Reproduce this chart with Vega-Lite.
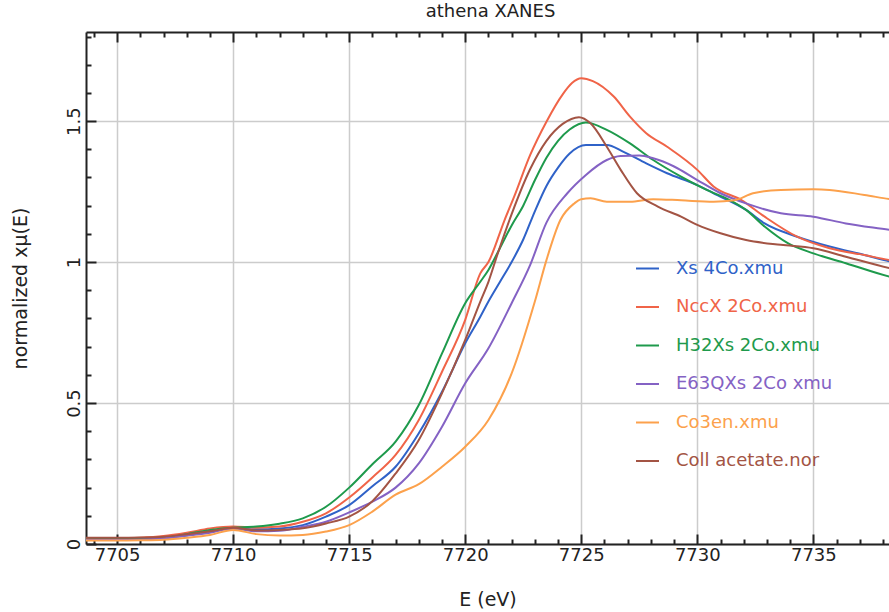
{
  "$schema": "https://vega.github.io/schema/vega-lite/v6.json",
  "width": 803,
  "height": 512,
  "autosize": {"type": "none"},
  "padding": {"left": 86, "top": 32, "right": 0, "bottom": 68},
  "background": "white",
  "config": {"view": {"stroke": null}, "font": "DejaVu Sans"},
  "title": {"text": "athena XANES", "font": "DejaVu Sans", "fontSize": 18, "fontWeight": "normal", "color": "#222", "anchor": "middle", "offset": 10, "dx": 3},
  "datasets": {
    "xas": [
      {"sample":"Xs 4Co.xmu","E":7703.5,"mu":0.018},{"sample":"Xs 4Co.xmu","E":7705,"mu":0.018},{"sample":"Xs 4Co.xmu","E":7706,"mu":0.02},{"sample":"Xs 4Co.xmu","E":7707,"mu":0.022},{"sample":"Xs 4Co.xmu","E":7708,"mu":0.03},{"sample":"Xs 4Co.xmu","E":7709,"mu":0.045},{"sample":"Xs 4Co.xmu","E":7710,"mu":0.055},{"sample":"Xs 4Co.xmu","E":7711,"mu":0.052},{"sample":"Xs 4Co.xmu","E":7712,"mu":0.055},{"sample":"Xs 4Co.xmu","E":7713,"mu":0.067},{"sample":"Xs 4Co.xmu","E":7714,"mu":0.097},{"sample":"Xs 4Co.xmu","E":7715,"mu":0.138},{"sample":"Xs 4Co.xmu","E":7716,"mu":0.205},{"sample":"Xs 4Co.xmu","E":7717,"mu":0.274},{"sample":"Xs 4Co.xmu","E":7718,"mu":0.393},{"sample":"Xs 4Co.xmu","E":7719,"mu":0.54},{"sample":"Xs 4Co.xmu","E":7720,"mu":0.712},{"sample":"Xs 4Co.xmu","E":7720.65,"mu":0.806},{"sample":"Xs 4Co.xmu","E":7721,"mu":0.86},{"sample":"Xs 4Co.xmu","E":7721.5,"mu":0.93},{"sample":"Xs 4Co.xmu","E":7722,"mu":1.0},{"sample":"Xs 4Co.xmu","E":7722.5,"mu":1.08},{"sample":"Xs 4Co.xmu","E":7723,"mu":1.18},{"sample":"Xs 4Co.xmu","E":7723.5,"mu":1.27},{"sample":"Xs 4Co.xmu","E":7724,"mu":1.335},{"sample":"Xs 4Co.xmu","E":7724.5,"mu":1.385},{"sample":"Xs 4Co.xmu","E":7725.2,"mu":1.415},{"sample":"Xs 4Co.xmu","E":7726.1,"mu":1.415},{"sample":"Xs 4Co.xmu","E":7726.8,"mu":1.392},{"sample":"Xs 4Co.xmu","E":7727.8,"mu":1.35},{"sample":"Xs 4Co.xmu","E":7728.7,"mu":1.315},{"sample":"Xs 4Co.xmu","E":7730,"mu":1.273},{"sample":"Xs 4Co.xmu","E":7730.7,"mu":1.244},{"sample":"Xs 4Co.xmu","E":7732.1,"mu":1.185},{"sample":"Xs 4Co.xmu","E":7732.9,"mu":1.137},{"sample":"Xs 4Co.xmu","E":7734.3,"mu":1.09},{"sample":"Xs 4Co.xmu","E":7735.7,"mu":1.055},{"sample":"Xs 4Co.xmu","E":7737.2,"mu":1.025},{"sample":"Xs 4Co.xmu","E":7738.3,"mu":1.002},{"sample":"Xs 4Co.xmu","E":7739,"mu":0.99},
      {"sample":"NccX 2Co.xmu","E":7703.5,"mu":0.02},{"sample":"NccX 2Co.xmu","E":7705,"mu":0.02},{"sample":"NccX 2Co.xmu","E":7706,"mu":0.022},{"sample":"NccX 2Co.xmu","E":7707,"mu":0.028},{"sample":"NccX 2Co.xmu","E":7708,"mu":0.04},{"sample":"NccX 2Co.xmu","E":7709,"mu":0.055},{"sample":"NccX 2Co.xmu","E":7710,"mu":0.062},{"sample":"NccX 2Co.xmu","E":7711,"mu":0.058},{"sample":"NccX 2Co.xmu","E":7712,"mu":0.062},{"sample":"NccX 2Co.xmu","E":7713,"mu":0.079},{"sample":"NccX 2Co.xmu","E":7714,"mu":0.109},{"sample":"NccX 2Co.xmu","E":7715,"mu":0.165},{"sample":"NccX 2Co.xmu","E":7716,"mu":0.236},{"sample":"NccX 2Co.xmu","E":7717,"mu":0.316},{"sample":"NccX 2Co.xmu","E":7718,"mu":0.44},{"sample":"NccX 2Co.xmu","E":7719,"mu":0.611},{"sample":"NccX 2Co.xmu","E":7720,"mu":0.795},{"sample":"NccX 2Co.xmu","E":7720.65,"mu":0.96},{"sample":"NccX 2Co.xmu","E":7721,"mu":1.0},{"sample":"NccX 2Co.xmu","E":7721.7,"mu":1.15},{"sample":"NccX 2Co.xmu","E":7722.1,"mu":1.23},{"sample":"NccX 2Co.xmu","E":7722.8,"mu":1.38},{"sample":"NccX 2Co.xmu","E":7723.5,"mu":1.498},{"sample":"NccX 2Co.xmu","E":7724.2,"mu":1.595},{"sample":"NccX 2Co.xmu","E":7724.6,"mu":1.635},{"sample":"NccX 2Co.xmu","E":7725,"mu":1.652},{"sample":"NccX 2Co.xmu","E":7725.5,"mu":1.642},{"sample":"NccX 2Co.xmu","E":7726.4,"mu":1.587},{"sample":"NccX 2Co.xmu","E":7727.1,"mu":1.516},{"sample":"NccX 2Co.xmu","E":7727.8,"mu":1.457},{"sample":"NccX 2Co.xmu","E":7728.7,"mu":1.409},{"sample":"NccX 2Co.xmu","E":7730,"mu":1.327},{"sample":"NccX 2Co.xmu","E":7730.7,"mu":1.268},{"sample":"NccX 2Co.xmu","E":7731.9,"mu":1.22},{"sample":"NccX 2Co.xmu","E":7732.9,"mu":1.161},{"sample":"NccX 2Co.xmu","E":7734.3,"mu":1.09},{"sample":"NccX 2Co.xmu","E":7735.7,"mu":1.049},{"sample":"NccX 2Co.xmu","E":7737.2,"mu":1.025},{"sample":"NccX 2Co.xmu","E":7738.3,"mu":1.007},{"sample":"NccX 2Co.xmu","E":7739,"mu":1.0},
      {"sample":"H32Xs 2Co.xmu","E":7703.5,"mu":0.015},{"sample":"H32Xs 2Co.xmu","E":7705,"mu":0.02},{"sample":"H32Xs 2Co.xmu","E":7706,"mu":0.02},{"sample":"H32Xs 2Co.xmu","E":7707,"mu":0.022},{"sample":"H32Xs 2Co.xmu","E":7708,"mu":0.035},{"sample":"H32Xs 2Co.xmu","E":7709,"mu":0.05},{"sample":"H32Xs 2Co.xmu","E":7710,"mu":0.058},{"sample":"H32Xs 2Co.xmu","E":7711,"mu":0.062},{"sample":"H32Xs 2Co.xmu","E":7712,"mu":0.072},{"sample":"H32Xs 2Co.xmu","E":7713,"mu":0.091},{"sample":"H32Xs 2Co.xmu","E":7714,"mu":0.132},{"sample":"H32Xs 2Co.xmu","E":7715,"mu":0.2},{"sample":"H32Xs 2Co.xmu","E":7716,"mu":0.283},{"sample":"H32Xs 2Co.xmu","E":7717,"mu":0.363},{"sample":"H32Xs 2Co.xmu","E":7718,"mu":0.493},{"sample":"H32Xs 2Co.xmu","E":7719,"mu":0.676},{"sample":"H32Xs 2Co.xmu","E":7720,"mu":0.854},{"sample":"H32Xs 2Co.xmu","E":7720.65,"mu":0.93},{"sample":"H32Xs 2Co.xmu","E":7721,"mu":0.972},{"sample":"H32Xs 2Co.xmu","E":7721.5,"mu":1.05},{"sample":"H32Xs 2Co.xmu","E":7722,"mu":1.13},{"sample":"H32Xs 2Co.xmu","E":7722.5,"mu":1.2},{"sample":"H32Xs 2Co.xmu","E":7723,"mu":1.29},{"sample":"H32Xs 2Co.xmu","E":7723.5,"mu":1.37},{"sample":"H32Xs 2Co.xmu","E":7724,"mu":1.43},{"sample":"H32Xs 2Co.xmu","E":7724.5,"mu":1.47},{"sample":"H32Xs 2Co.xmu","E":7725.2,"mu":1.495},{"sample":"H32Xs 2Co.xmu","E":7726.1,"mu":1.469},{"sample":"H32Xs 2Co.xmu","E":7727.1,"mu":1.421},{"sample":"H32Xs 2Co.xmu","E":7728.1,"mu":1.362},{"sample":"H32Xs 2Co.xmu","E":7729.3,"mu":1.303},{"sample":"H32Xs 2Co.xmu","E":7730.4,"mu":1.256},{"sample":"H32Xs 2Co.xmu","E":7731.4,"mu":1.22},{"sample":"H32Xs 2Co.xmu","E":7732.1,"mu":1.185},{"sample":"H32Xs 2Co.xmu","E":7732.9,"mu":1.126},{"sample":"H32Xs 2Co.xmu","E":7733.9,"mu":1.067},{"sample":"H32Xs 2Co.xmu","E":7735,"mu":1.031},{"sample":"H32Xs 2Co.xmu","E":7736.4,"mu":0.996},{"sample":"H32Xs 2Co.xmu","E":7738.3,"mu":0.948},{"sample":"H32Xs 2Co.xmu","E":7739,"mu":0.935},
      {"sample":"E63QXs 2Co xmu","E":7703.5,"mu":0.015},{"sample":"E63QXs 2Co xmu","E":7705,"mu":0.015},{"sample":"E63QXs 2Co xmu","E":7706,"mu":0.016},{"sample":"E63QXs 2Co xmu","E":7707,"mu":0.02},{"sample":"E63QXs 2Co xmu","E":7708,"mu":0.03},{"sample":"E63QXs 2Co xmu","E":7709,"mu":0.04},{"sample":"E63QXs 2Co xmu","E":7710,"mu":0.055},{"sample":"E63QXs 2Co xmu","E":7711,"mu":0.045},{"sample":"E63QXs 2Co xmu","E":7712,"mu":0.047},{"sample":"E63QXs 2Co xmu","E":7713,"mu":0.061},{"sample":"E63QXs 2Co xmu","E":7714,"mu":0.079},{"sample":"E63QXs 2Co xmu","E":7715,"mu":0.112},{"sample":"E63QXs 2Co xmu","E":7716,"mu":0.15},{"sample":"E63QXs 2Co xmu","E":7717,"mu":0.2},{"sample":"E63QXs 2Co xmu","E":7718,"mu":0.286},{"sample":"E63QXs 2Co xmu","E":7719,"mu":0.416},{"sample":"E63QXs 2Co xmu","E":7720,"mu":0.57},{"sample":"E63QXs 2Co xmu","E":7721,"mu":0.694},{"sample":"E63QXs 2Co xmu","E":7722,"mu":0.854},{"sample":"E63QXs 2Co xmu","E":7722.8,"mu":0.99},{"sample":"E63QXs 2Co xmu","E":7723.5,"mu":1.14},{"sample":"E63QXs 2Co xmu","E":7724.4,"mu":1.244},{"sample":"E63QXs 2Co xmu","E":7725.2,"mu":1.309},{"sample":"E63QXs 2Co xmu","E":7726.1,"mu":1.362},{"sample":"E63QXs 2Co xmu","E":7726.7,"mu":1.376},{"sample":"E63QXs 2Co xmu","E":7727.5,"mu":1.378},{"sample":"E63QXs 2Co xmu","E":7728.1,"mu":1.368},{"sample":"E63QXs 2Co xmu","E":7729,"mu":1.339},{"sample":"E63QXs 2Co xmu","E":7730,"mu":1.291},{"sample":"E63QXs 2Co xmu","E":7731,"mu":1.244},{"sample":"E63QXs 2Co xmu","E":7732.1,"mu":1.208},{"sample":"E63QXs 2Co xmu","E":7733.6,"mu":1.173},{"sample":"E63QXs 2Co xmu","E":7735,"mu":1.161},{"sample":"E63QXs 2Co xmu","E":7736.4,"mu":1.137},{"sample":"E63QXs 2Co xmu","E":7738.3,"mu":1.114},{"sample":"E63QXs 2Co xmu","E":7739,"mu":1.105},
      {"sample":"Co3en.xmu","E":7703.5,"mu":0.012},{"sample":"Co3en.xmu","E":7705,"mu":0.012},{"sample":"Co3en.xmu","E":7706,"mu":0.013},{"sample":"Co3en.xmu","E":7707,"mu":0.015},{"sample":"Co3en.xmu","E":7708,"mu":0.022},{"sample":"Co3en.xmu","E":7709,"mu":0.032},{"sample":"Co3en.xmu","E":7710,"mu":0.05},{"sample":"Co3en.xmu","E":7711,"mu":0.035},{"sample":"Co3en.xmu","E":7712,"mu":0.03},{"sample":"Co3en.xmu","E":7713,"mu":0.032},{"sample":"Co3en.xmu","E":7714,"mu":0.044},{"sample":"Co3en.xmu","E":7715,"mu":0.067},{"sample":"Co3en.xmu","E":7716,"mu":0.115},{"sample":"Co3en.xmu","E":7717,"mu":0.175},{"sample":"Co3en.xmu","E":7718,"mu":0.212},{"sample":"Co3en.xmu","E":7719,"mu":0.274},{"sample":"Co3en.xmu","E":7720,"mu":0.345},{"sample":"Co3en.xmu","E":7721,"mu":0.44},{"sample":"Co3en.xmu","E":7722,"mu":0.605},{"sample":"Co3en.xmu","E":7723,"mu":0.86},{"sample":"Co3en.xmu","E":7723.5,"mu":1.007},{"sample":"Co3en.xmu","E":7724.1,"mu":1.149},{"sample":"Co3en.xmu","E":7724.7,"mu":1.208},{"sample":"Co3en.xmu","E":7725,"mu":1.223},{"sample":"Co3en.xmu","E":7725.4,"mu":1.226},{"sample":"Co3en.xmu","E":7726.1,"mu":1.214},{"sample":"Co3en.xmu","E":7727.1,"mu":1.214},{"sample":"Co3en.xmu","E":7728.1,"mu":1.223},{"sample":"Co3en.xmu","E":7729.3,"mu":1.219},{"sample":"Co3en.xmu","E":7730.7,"mu":1.214},{"sample":"Co3en.xmu","E":7731.6,"mu":1.219},{"sample":"Co3en.xmu","E":7732.4,"mu":1.244},{"sample":"Co3en.xmu","E":7733.6,"mu":1.256},{"sample":"Co3en.xmu","E":7735,"mu":1.258},{"sample":"Co3en.xmu","E":7735.7,"mu":1.256},{"sample":"Co3en.xmu","E":7737.2,"mu":1.238},{"sample":"Co3en.xmu","E":7738.3,"mu":1.223},{"sample":"Co3en.xmu","E":7739,"mu":1.215},
      {"sample":"Coll acetate.nor","E":7703.5,"mu":0.022},{"sample":"Coll acetate.nor","E":7705,"mu":0.022},{"sample":"Coll acetate.nor","E":7706,"mu":0.023},{"sample":"Coll acetate.nor","E":7707,"mu":0.026},{"sample":"Coll acetate.nor","E":7708,"mu":0.035},{"sample":"Coll acetate.nor","E":7709,"mu":0.045},{"sample":"Coll acetate.nor","E":7710,"mu":0.058},{"sample":"Coll acetate.nor","E":7711,"mu":0.048},{"sample":"Coll acetate.nor","E":7712,"mu":0.05},{"sample":"Coll acetate.nor","E":7713,"mu":0.056},{"sample":"Coll acetate.nor","E":7714,"mu":0.073},{"sample":"Coll acetate.nor","E":7715,"mu":0.097},{"sample":"Coll acetate.nor","E":7716,"mu":0.152},{"sample":"Coll acetate.nor","E":7717,"mu":0.25},{"sample":"Coll acetate.nor","E":7718,"mu":0.369},{"sample":"Coll acetate.nor","E":7719,"mu":0.535},{"sample":"Coll acetate.nor","E":7720,"mu":0.724},{"sample":"Coll acetate.nor","E":7720.65,"mu":0.86},{"sample":"Coll acetate.nor","E":7721,"mu":0.93},{"sample":"Coll acetate.nor","E":7721.4,"mu":1.03},{"sample":"Coll acetate.nor","E":7722,"mu":1.17},{"sample":"Coll acetate.nor","E":7722.8,"mu":1.33},{"sample":"Coll acetate.nor","E":7723.5,"mu":1.43},{"sample":"Coll acetate.nor","E":7724.2,"mu":1.49},{"sample":"Coll acetate.nor","E":7724.9,"mu":1.514},{"sample":"Coll acetate.nor","E":7725.4,"mu":1.492},{"sample":"Coll acetate.nor","E":7726.1,"mu":1.409},{"sample":"Coll acetate.nor","E":7726.7,"mu":1.327},{"sample":"Coll acetate.nor","E":7727.4,"mu":1.244},{"sample":"Coll acetate.nor","E":7728.3,"mu":1.197},{"sample":"Coll acetate.nor","E":7729.3,"mu":1.161},{"sample":"Coll acetate.nor","E":7730,"mu":1.132},{"sample":"Coll acetate.nor","E":7731,"mu":1.102},{"sample":"Coll acetate.nor","E":7732.1,"mu":1.078},{"sample":"Coll acetate.nor","E":7733.6,"mu":1.061},{"sample":"Coll acetate.nor","E":7735,"mu":1.049},{"sample":"Coll acetate.nor","E":7736.4,"mu":1.019},{"sample":"Coll acetate.nor","E":7738.3,"mu":0.978},{"sample":"Coll acetate.nor","E":7739,"mu":0.965}
    ]
  },
  "data": {"name": "xas"},
  "resolve": {"axis": {"x": "independent"}},
  "layer": [
    {
      "mark": {"type": "line", "strokeWidth": 2, "clip": true, "interpolate": "monotone"},
      "encoding": {
        "x": {
          "field": "E", "type": "quantitative",
          "scale": {"domain": [7703.66, 7738.26], "nice": false, "zero": false},
          "axis": {
            "orient": "bottom",
            "title": "E (eV)",
            "titleFont": "DejaVu Sans", "titleFontSize": 19, "titleFontWeight": "normal", "titleColor": "#222",
            "titleBaseline": "middle", "titleY": 55,
            "values": [7704,7705,7706,7707,7708,7709,7710,7711,7712,7713,7714,7715,7716,7717,7718,7719,7720,7721,7722,7723,7724,7725,7726,7727,7728,7729,7730,7731,7732,7733,7734,7735,7736,7737,7738],
            "labelExpr": "datum.value % 5 == 0 ? format(datum.value, 'd') : ''",
            "labelFont": "DejaVu Sans", "labelFontSize": 18, "labelColor": "#222",
            "labelOverlap": false, "labelFlush": false, "labelPadding": 12,
            "domainColor": "#222", "domainWidth": 2,
            "tickColor": "#222", "tickWidth": 2,
            "tickSize": {"condition": {"test": "datum.value % 5 == 0", "value": -10}, "value": -5},
            "grid": true, "gridColor": "#cccccc", "gridWidth": 1.5,
            "gridOpacity": {"condition": {"test": "datum.value % 5 == 0", "value": 1}, "value": 0}
          }
        },
        "y": {
          "field": "mu", "type": "quantitative",
          "scale": {"domain": [0, 1.816], "nice": false},
          "axis": {
            "title": "normalized xμ(E)",
            "titleFont": "DejaVu Sans", "titleFontSize": 19, "titleFontWeight": "normal", "titleColor": "#222",
            "titleAngle": -90, "titleAlign": "center", "titleBaseline": "middle", "titleX": -66, "titleY": 256,
            "values": [0,0.1,0.2,0.3,0.4,0.5,0.6,0.7,0.8,0.9,1,1.1,1.2,1.3,1.4,1.5,1.6,1.7,1.8],
            "labelExpr": "abs(datum.value*2 - round(datum.value*2)) < 0.001 ? format(datum.value, '~g') : ''",
            "labelFont": "DejaVu Sans", "labelFontSize": 18, "labelColor": "#222",
            "labelAngle": -90, "labelAlign": "center", "labelBaseline": "bottom",
            "labelOverlap": false, "labelFlush": false, "labelPadding": 13,
            "domainColor": "#222", "domainWidth": 2,
            "tickColor": "#222", "tickWidth": 2,
            "tickSize": {"condition": {"test": "abs(datum.value*2 - round(datum.value*2)) < 0.001", "value": -10}, "value": -5},
            "grid": true, "gridColor": "#cccccc", "gridWidth": 1.5,
            "gridOpacity": {"condition": {"test": "abs(datum.value*2 - round(datum.value*2)) < 0.001", "value": 1}, "value": 0}
          }
        },
        "color": {
          "field": "sample", "type": "nominal",
          "scale": {
            "domain": ["Xs 4Co.xmu", "NccX 2Co.xmu", "H32Xs 2Co.xmu", "E63QXs 2Co xmu", "Co3en.xmu", "Coll acetate.nor"],
            "range": ["#2f62c8", "#f06448", "#1e9a4c", "#8462c4", "#fca14c", "#a35444"]
          },
          "legend": {
            "title": null,
            "orient": "none", "legendX": 549, "legendY": 224,
            "symbolType": "stroke", "symbolSize": 529, "symbolStrokeWidth": 2,
            "labelFont": "DejaVu Sans", "labelFontSize": 18, "labelOffset": 16,
            "rowPadding": 16.5, "padding": 0,
            "encode": {"labels": {"update": {"fill": {"scale": "color", "field": "value"}}}}
          }
        }
      }
    },
    {
      "mark": {"type": "point", "opacity": 0},
      "encoding": {
        "x": {
          "field": "E", "type": "quantitative",
          "axis": {
            "orient": "top", "title": null, "labels": false, "grid": false,
            "values": [7704,7705,7706,7707,7708,7709,7710,7711,7712,7713,7714,7715,7716,7717,7718,7719,7720,7721,7722,7723,7724,7725,7726,7727,7728,7729,7730,7731,7732,7733,7734,7735,7736,7737,7738],
            "domainColor": "#222", "domainWidth": 2,
            "tickColor": "#222", "tickWidth": 2,
            "tickSize": {"condition": {"test": "datum.value % 5 == 0", "value": -10}, "value": -5}
          }
        }
      }
    }
  ]
}
